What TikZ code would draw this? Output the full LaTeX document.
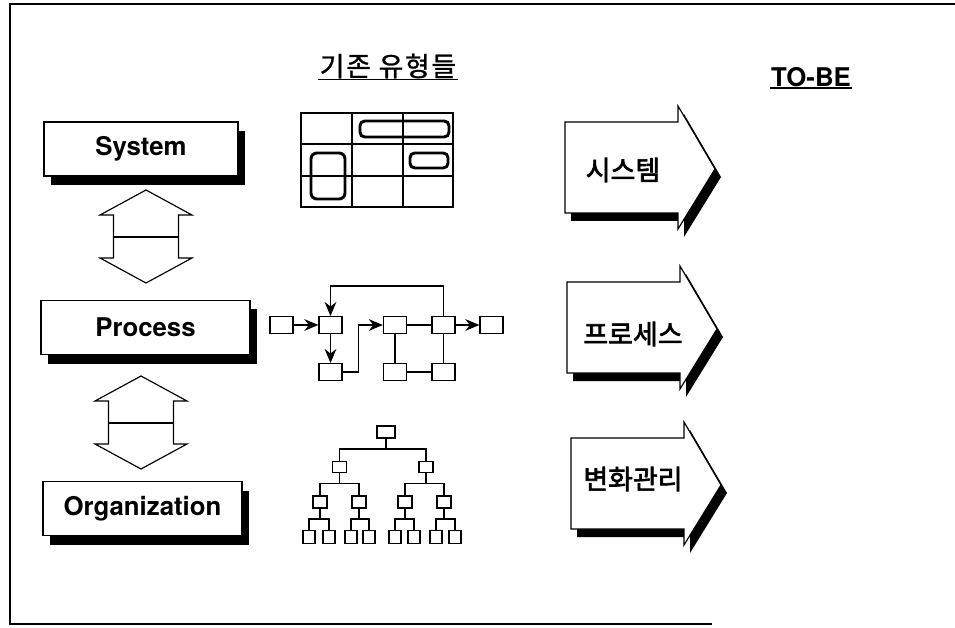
\documentclass[tikz,border=0pt]{standalone}
\usepackage{fontspec}
\setmainfont{TeX Gyre Heros}
\newfontfamily\kr[FakeBold=2.5]{Noto Sans CJK KR}
\newfontfamily\krtitle[FakeBold=1,LetterSpace=6]{Noto Sans CJK KR}
\usetikzlibrary{arrows.meta,shadows}

\tikzset{
  lbox/.style={draw,fill=white,line width=1.3pt,minimum height=1.62cm,
    font=\bfseries\fontsize{22}{24}\selectfont,
    drop shadow={shadow xshift=0.2cm,shadow yshift=-0.27cm,fill=black,opacity=1}},
  pbox/.style={draw,fill=white,line width=1.1pt,minimum width=0.69cm,
    minimum height=0.5cm,inner sep=0pt},
  obox/.style={draw,line width=1.5pt,inner sep=0pt},
  flowline/.style={line width=1.1pt},
  flowarrow/.style={line width=1.1pt,-{Stealth[length=12pt,width=10pt]}},
  ktext/.style={font=\kr\fontsize{23}{26}\selectfont},
  dblarrow/.pic={
    \draw[line width=1pt,fill=white] (0,0) -- (46,25) -- (32.5,25) -- %
      (32.5,68) -- (46,68) -- (0,93) -- (-46,68) -- (-32.5,68) -- %
      (-32.5,25) -- (-46,25) -- cycle;
    \draw[line width=1pt] (-32.5,47) -- (32.5,47);
  },
  fatarrow/.pic={
    \fill[black,shift={(6,8)}] (0,0) -- (113,0) -- (113,-16) -- (150,47) -- %
      (113,107) -- (113,91) -- (0,91) -- cycle;
    \draw[line width=1pt,fill=white] (0,0) -- (113,0) -- (113,-16) -- %
      (150,47) -- (113,107) -- (113,91) -- (0,91) -- cycle;
  }
}

\begin{document}
\begin{tikzpicture}[x=0.03cm,y=-0.03cm]
  \useasboundingbox (0,0) rectangle (955,628);
  %\draw[very thin,lightgray] (0,0) grid[step=50] (955,628);
  \draw[line width=2.4pt] (955,4) -- (10,4) -- (10,624) -- (712,624);

  % headings
  \node[font=\krtitle\fontsize{23}{26}\selectfont,inner sep=1pt] (title) at (388,66) {기존 유형들};
  \draw[line width=1.2pt] (title.south west) -- (title.south east);
  \node[font=\bfseries\fontsize{22}{24}\selectfont,inner sep=1pt] (tobe) at (811,77) {TO-BE};
  \draw[line width=1.2pt] (tobe.south west) -- (tobe.south east);

  % left column
  \node[lbox,minimum width=5.82cm] (sys) at (141,149) {System};
  \node[lbox,minimum width=6.27cm] (proc) at (145.5,327.5) {Process};
  \node[lbox,minimum width=5.97cm] (org) at (142.5,508.5) {Organization};
  \pic at (146,190) {dblarrow};
  \pic at (141,376) {dblarrow};

  % system: screen layout
  \draw[line width=1pt] (301,113) rectangle (453,207);
  \foreach \x in {352,403} \draw[line width=1pt] (\x,113) -- (\x,207);
  \foreach \y in {144,176} \draw[line width=1pt] (301,\y) -- (453,\y);
  \draw[line width=2.5pt,rounded corners=4pt] (360,121) rectangle (449,137);
  \draw[line width=2.5pt,rounded corners=4pt] (410,153) rectangle (448,168);
  \draw[line width=2.5pt,rounded corners=5pt] (311,153) rectangle (345,199);

  % process: flow
  \node[pbox] (pa) at (281.5,325) {};
  \node[pbox] (pb) at (330.5,325) {};
  \node[pbox] (pc) at (330.5,372) {};
  \node[pbox] (pd) at (395,325) {};
  \node[pbox] (pe) at (443.5,325) {};
  \node[pbox] (pf) at (491.5,325) {};
  \node[pbox] (pg) at (395,372) {};
  \node[pbox] (ph) at (443.5,372) {};
  \draw[flowarrow] (pa) -- (pb);
  \draw[flowarrow] (pb) -- (pc);
  \draw[flowarrow] (pc.east) -- ++(16,0) |- (pd.west);
  \draw[flowarrow] (pe.north) -- ++(0,-30) -| (pb.north);
  \draw[flowarrow] (pe) -- (pf);
  \foreach \s/\t in {pd/pe,pd/pg,pe/ph,pg/ph} \draw[flowline] (\s) -- (\t);

  % organization: tree
  \node[obox,minimum width=0.56cm,minimum height=0.38cm] (r) at (386,432) {};
  \foreach \n/\x in {a/339.5,b/426}
    \node[obox,minimum width=0.42cm,minimum height=0.33cm] (\n) at (\x,467) {};
  \foreach \n/\x in {a1/320,a2/359,b1/405,b2/444}
    \node[obox,minimum width=0.42cm,minimum height=0.36cm] (\n) at (\x,502) {};
  \foreach \n/\x in {a11/309,a12/329,a21/351,a22/369,b11/395,b12/414,b21/436,b22/455}
    \node[obox,minimum width=0.36cm,minimum height=0.39cm] (\n) at (\x,537) {};
  \foreach \p/\c in {r/a,r/b,a/a1,a/a2,b/b1,b/b2,a1/a11,a1/a12,a2/a21,a2/a22,%
      b1/b11,b1/b12,b2/b21,b2/b22}
    \draw[line width=1.3pt] (\p.south) -- ++(0,10) -| (\c.north);

  % to-be arrows
  \pic at (565,122) {fatarrow};
  \pic at (567,282) {fatarrow};
  \pic at (571,438) {fatarrow};
  \node[ktext] (ksys) at (623,170) {시스템};
  \node[ktext] (kproc) at (633,334) {프로세스};
  \node[ktext] (kchg) at (633,479) {변화관리};
\end{tikzpicture}
\end{document}
